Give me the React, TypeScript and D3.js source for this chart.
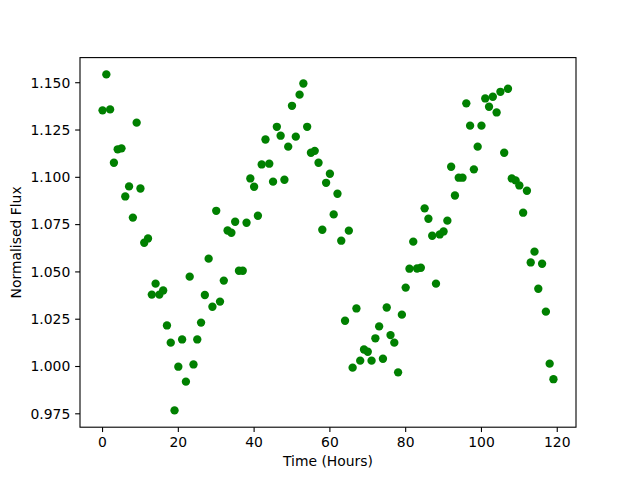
import React from 'react';
import * as d3 from 'd3';

// hours since start of observation
const hours: number[] = d3.range(0, 120);

// normalised flux, one reading per hour
const flux: number[] = [
  1.1354, 1.1544, 1.1359, 1.1077, 1.1148, 1.1153, 1.0899, 1.0952, 1.0787, 1.1289,
  1.0941, 1.0654, 1.0677, 1.0380, 1.0438, 1.0380, 1.0402, 1.0217, 1.0126, 0.9768,
  0.9999, 1.0143, 0.9920, 1.0475, 1.0011, 1.0143, 1.0232, 1.0378, 1.0570, 1.0316,
  1.0823, 1.0343, 1.0454, 1.0719, 1.0707, 1.0765, 1.0506, 1.0506, 1.0760, 1.0994,
  1.0950, 1.0797, 1.1068, 1.1200, 1.1072, 1.0977, 1.1267, 1.1220, 1.0987, 1.1162,
  1.1378, 1.1215, 1.1437, 1.1496, 1.1267, 1.1130, 1.1140, 1.1077, 1.0723, 1.0971,
  1.1019, 1.0804, 1.0913, 1.0665, 1.0242, 1.0718, 0.9994, 1.0307, 1.0031, 1.0090,
  1.0078, 1.0031, 1.0149, 1.0212, 1.0041, 1.0312, 1.0166, 1.0126, 0.9969, 1.0274,
  1.0417, 1.0517, 1.0660, 1.0518, 1.0522, 1.0836, 1.0781, 1.0691, 1.0438, 1.0698,
  1.0714, 1.0771, 1.1056, 1.0904, 1.0998, 1.0998, 1.1391, 1.1273, 1.1042, 1.1162,
  1.1273, 1.1417, 1.1373, 1.1426, 1.1343, 1.1452, 1.1130, 1.1468, 1.0994, 1.0984,
  1.0957, 1.0813, 1.0929, 1.0550, 1.0607, 1.0411, 1.0543, 1.0290, 1.0015, 0.9933,
];

const xTicks: number[] = [0, 20, 40, 60, 80, 100, 120];
const yTicks: number[] = [0.975, 1.0, 1.025, 1.05, 1.075, 1.1, 1.125, 1.15];

const W = 640;
const H = 480;
const margin = { top: 57.6, right: 64, bottom: 52.8, left: 80 };
const FONT = '"DejaVu Sans", sans-serif';
const FS = 13.9;
const TICK = 4.86;

// matplotlib-style 5% padding around the data extent
function padded(ext: [number, number]): [number, number] {
  const p = (ext[1] - ext[0]) * 0.05;
  return [ext[0] - p, ext[1] + p];
}

export default function App() {
  const innerW = W - margin.left - margin.right;
  const innerH = H - margin.top - margin.bottom;

  const x = d3.scaleLinear()
    .domain(padded(d3.extent(hours) as [number, number]))
    .range([margin.left, margin.left + innerW]);
  const y = d3.scaleLinear()
    .domain(padded(d3.extent(flux) as [number, number]))
    .range([margin.top + innerH, margin.top]);

  const bottom = margin.top + innerH;
  const fmt = d3.format('.3f');

  return (
    <svg width={W} height={H} style={{ position: 'absolute', left: 0, top: 0, background: '#fff' }}
      fontFamily={FONT} fontSize={FS}>
      <rect x={0} y={0} width={W} height={H} fill="#fff" />

      {/* points */}
      <g fill="#008000">
        {hours.map((h, i) => (
          <circle key={i} cx={x(h)} cy={y(flux[i])} r={4.17} />
        ))}
      </g>

      {/* frame */}
      <rect x={margin.left} y={margin.top} width={innerW} height={innerH}
        fill="none" stroke="#000" strokeWidth={1.1} />

      {/* x axis */}
      <g>
        {xTicks.map(t => (
          <g key={t} transform={`translate(${x(t)},${bottom})`}>
            <line y2={TICK} stroke="#000" strokeWidth={1.1} />
            <text y={TICK + 4.86} dominantBaseline="hanging" textAnchor="middle" fill="#000">{t}</text>
          </g>
        ))}
        <text x={margin.left + innerW / 2} y={456} dominantBaseline="hanging"
          textAnchor="middle" fill="#000">Time (Hours)</text>
      </g>

      {/* y axis */}
      <g>
        {yTicks.map(t => (
          <g key={t} transform={`translate(${margin.left},${y(t)})`}>
            <line x2={-TICK} stroke="#000" strokeWidth={1.1} />
            <text x={-TICK - 4.86} dy="0.35em" textAnchor="end" fill="#000">{fmt(t)}</text>
          </g>
        ))}
        <text transform={`translate(21,${margin.top + innerH / 2}) rotate(-90)`}
          textAnchor="middle" fill="#000">Normalised Flux</text>
      </g>
    </svg>
  );
}
